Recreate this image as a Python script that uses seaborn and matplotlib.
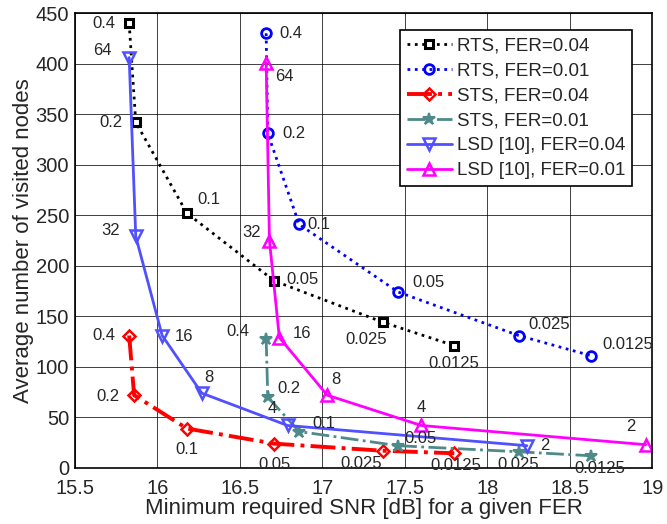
import numpy as np
import pandas as pd
import matplotlib
matplotlib.use("Agg")
import matplotlib.pyplot as plt
import seaborn as sns

# ----------------------------------------------------------------------
# data
# ----------------------------------------------------------------------
rts_labels = ["0.4", "0.2", "0.1", "0.05", "0.025", "0.0125"]
lsd_labels = ["64", "32", "16", "8", "4", "2"]

rts04_snr = [15.83, 15.87, 16.18, 16.71, 17.37, 17.80]
rts04_nodes = [440, 342, 252, 185, 144, 121]

rts01_snr = [16.66, 16.67, 16.86, 17.46, 18.19, 18.63]
rts01_nodes = [430, 331, 241, 174, 131, 111]

sts04_snr = [15.83, 15.86, 16.18, 16.71, 17.37, 17.80]
sts04_nodes = [131, 72, 39, 24, 17, 14.5]

sts01_snr = [16.66, 16.67, 16.86, 17.46, 18.19, 18.63]
sts01_nodes = [128, 70, 36, 22, 16, 12]

lsd04_snr = [15.83, 15.87, 16.03, 16.27, 16.79, 18.24]
lsd04_nodes = [406, 229, 131, 74, 42, 22]

lsd01_snr = [16.66, 16.68, 16.74, 17.03, 17.60, 18.96]
lsd01_nodes = [401, 225, 129, 72, 42, 23]

# label offsets (points) for each annotated marker
rts04_off = [(-18, 0), (-18, 0), (16, 10), (20, 1), (-12, -12), (0, -13)]
rts01_off = [(18, 0), (19, 0), (14, 0), (22, 7), (22, 8), (26, 8)]
sts04_off = [(-18, 0), (-19, -1), (0, -15), (0, -15), (-16, -9), (1, -9)]
sts01_off = [(-20, 5), (15, 6), (18, 6), (16, 5), (0, -9), (6, -9)]
lsd04_off = [(-19, 5), (-18, 4), (16, -1), (5, 11), (-11, 12), (13, 0)]
lsd01_off = [(13, -10), (-13, 6), (16, 3), (6, 11), (0, 13), (-11, 13)]


def draw_series(ax, snr, nodes, labels, offsets, name, **style):
    df = pd.DataFrame({"snr": snr, "nodes": nodes})
    sns.lineplot(data=df, x="snr", y="nodes", ax=ax, sort=False,
                 label=name, **style)
    for x, y, txt, off in zip(snr, nodes, labels, offsets):
        ax.annotate(txt, (x, y), xytext=off, textcoords="offset points",
                    ha="center", va="center", fontsize=12)


sns.set_style("white")
plt.rcParams["font.family"] = ["Liberation Sans", "DejaVu Sans"]

fig = plt.figure(figsize=(6.67, 5.24), dpi=100)
ax = fig.add_axes([0.112, 0.107, 0.866, 0.868])

draw_series(ax, rts04_snr, rts04_nodes, rts_labels, rts04_off,
            "RTS, FER=0.04", color="black", linestyle=":", linewidth=2,
            marker="s", markersize=6, markerfacecolor="white",
            markeredgecolor="black", markeredgewidth=2.2)
draw_series(ax, rts01_snr, rts01_nodes, rts_labels, rts01_off,
            "RTS, FER=0.01", color="#0000FF", linestyle=":", linewidth=2,
            marker="o", markersize=7, markerfacecolor="none",
            markeredgecolor="#0000FF", markeredgewidth=2)
draw_series(ax, sts04_snr, sts04_nodes, rts_labels, sts04_off,
            "STS, FER=0.04", color="#FF0000", linestyle="-.", linewidth=2.8,
            marker="D", markersize=6.5, markerfacecolor="none",
            markeredgecolor="#FF0000", markeredgewidth=1.8)
draw_series(ax, sts01_snr, sts01_nodes, rts_labels, sts01_off,
            "STS, FER=0.01", color="#4E8A8A", linestyle="-.", linewidth=2,
            marker="*", markersize=9, markerfacecolor="#4E8A8A",
            markeredgecolor="#4E8A8A", markeredgewidth=1.5)
draw_series(ax, lsd04_snr, lsd04_nodes, lsd_labels, lsd04_off,
            "LSD [10], FER=0.04", color="#5050FF", linestyle="-", linewidth=2,
            marker="v", markersize=8, markerfacecolor="none",
            markeredgecolor="#5050FF", markeredgewidth=1.8)
draw_series(ax, lsd01_snr, lsd01_nodes, lsd_labels, lsd01_off,
            "LSD [10], FER=0.01", color="#FF00FF", linestyle="-", linewidth=2,
            marker="^", markersize=8, markerfacecolor="none",
            markeredgecolor="#FF00FF", markeredgewidth=1.8)

ax.set_xlim(15.5, 19)
ax.set_ylim(0, 450)
ax.set_xticks(np.arange(15.5, 19.01, 0.5))
ax.set_yticks(np.arange(0, 451, 50))
ax.set_xticklabels(["15.5", "16", "16.5", "17", "17.5", "18", "18.5", "19"])
ax.tick_params(labelsize=14.5, direction="in", length=4, width=1)
ax.tick_params(axis="x", pad=8)
ax.tick_params(axis="y", pad=4)
ax.grid(True, color="black", linewidth=0.7, alpha=0.75)
for sp in ax.spines.values():
    sp.set_color("black")
    sp.set_linewidth(1.2)

ax.set_xlabel("Minimum required SNR [dB] for a given FER", fontsize=16, labelpad=0)
ax.set_ylabel("Average number of visited nodes", fontsize=16, labelpad=1)

leg = ax.legend(loc="upper right", bbox_to_anchor=(0.965, 0.962),
                fontsize=13.5, frameon=True, fancybox=False,
                edgecolor="black", framealpha=1, borderpad=0.35,
                labelspacing=0.42, handlelength=2.4, handletextpad=0.3,
                borderaxespad=0)
leg.get_frame().set_linewidth(1.2)

fig.savefig("out.png", dpi=100)
